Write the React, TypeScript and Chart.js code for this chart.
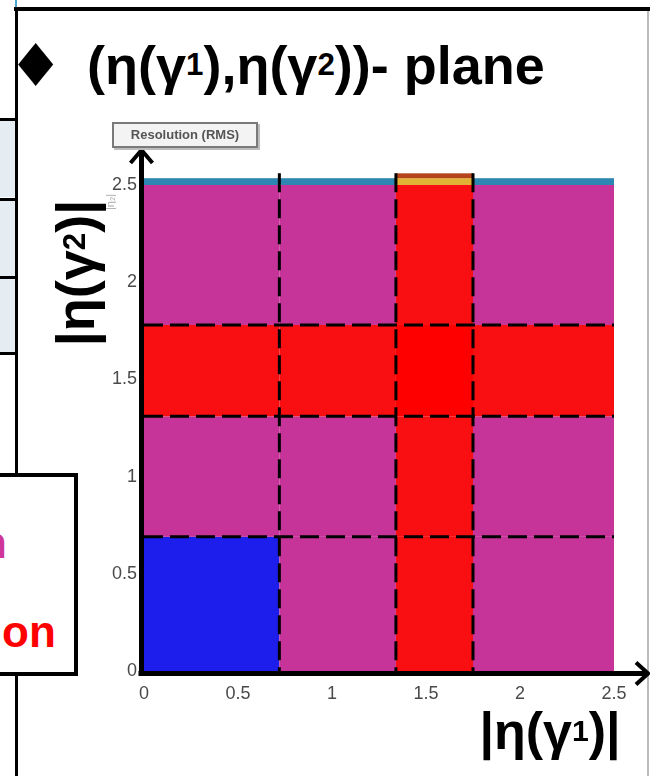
import React, { useEffect, useRef } from "react";
import { Chart, registerables } from "chart.js";

Chart.register(...registerables);

// Bin edges of the |η(γ1)| × |η(γ2)| resolution map
const xEdges = [0, 0.72, 1.34, 1.75, 2.5];
const yEdges = [0, 0.69, 1.31, 1.78, 2.5];

// Resolution class per bin, rows from low to high |η(γ2)|
const resolutionRows = [
  ["best", "mid", "poor", "mid"],
  ["mid", "mid", "poor", "mid"],
  ["poor", "poor", "worst", "poor"],
  ["mid", "mid", "poor", "mid"],
];

// Thin overflow band just above |η| = 2.5
const edgeBandY = [2.5, 2.535];
const edgeBandRow = ["edge", "edge", "hot", "edge"];
const hotCapY = [2.535, 2.56];
const hotCapCol = 2;

// Region boundaries drawn as dashed lines
const xCuts = [0.72, 1.34, 1.75];
const yCuts = [0.69, 1.31, 1.78];
const cutTop = 2.56;

const tickValues = [0, 0.5, 1, 1.5, 2, 2.5];

const palette: Record<string, string> = {
  best: "#1E1EEC",
  mid: "#C6349A",
  poor: "#F90E12",
  worst: "#FF0000",
  edge: "#2E86B2",
  hot: "#E2B236",
  cap: "#B5441C",
};

const etaPlanePlugin = {
  id: "etaPlane",
  beforeDatasetsDraw(chart: any) {
    const { ctx } = chart;
    const xs = chart.scales.x;
    const ys = chart.scales.y;
    const rect = (x0: number, x1: number, y0: number, y1: number, color: string) => {
      const px0 = xs.getPixelForValue(x0);
      const px1 = xs.getPixelForValue(x1);
      const py0 = ys.getPixelForValue(y0);
      const py1 = ys.getPixelForValue(y1);
      ctx.fillStyle = color;
      ctx.fillRect(px0, py1, px1 - px0, py0 - py1);
    };
    ctx.save();
    resolutionRows.forEach((row, j) => {
      row.forEach((cls, i) => {
        rect(xEdges[i], xEdges[i + 1], yEdges[j], yEdges[j + 1], palette[cls]);
      });
    });
    edgeBandRow.forEach((cls, i) => {
      rect(xEdges[i], xEdges[i + 1], edgeBandY[0], edgeBandY[1], palette[cls]);
    });
    rect(xEdges[hotCapCol], xEdges[hotCapCol + 1], hotCapY[0], hotCapY[1], palette.cap);
    ctx.restore();
  },
  afterDatasetsDraw(chart: any) {
    const { ctx } = chart;
    const xs = chart.scales.x;
    const ys = chart.scales.y;
    ctx.save();
    ctx.strokeStyle = "#000";
    ctx.lineWidth = 3;
    ctx.setLineDash([19, 7]);
    xCuts.forEach((v) => {
      const px = xs.getPixelForValue(v);
      ctx.beginPath();
      ctx.moveTo(px, ys.getPixelForValue(cutTop));
      ctx.lineTo(px, ys.getPixelForValue(0));
      ctx.stroke();
    });
    yCuts.forEach((v) => {
      const py = ys.getPixelForValue(v);
      ctx.beginPath();
      ctx.moveTo(xs.getPixelForValue(0), py);
      ctx.lineTo(xs.getPixelForValue(2.5), py);
      ctx.stroke();
    });
    ctx.setLineDash([]);

    // axes with open arrow heads
    const ox = xs.getPixelForValue(0) - 2.5;
    const oy = ys.getPixelForValue(0) + 2.5;
    ctx.lineWidth = 5;
    ctx.lineCap = "butt";
    ctx.beginPath();
    ctx.moveTo(ox, oy + 2);
    ctx.lineTo(ox, 148);
    ctx.moveTo(ox - 3, oy);
    ctx.lineTo(647, oy);
    ctx.stroke();
    ctx.lineWidth = 4;
    ctx.lineJoin = "miter";
    ctx.beginPath();
    ctx.moveTo(ox - 11, 163);
    ctx.lineTo(ox, 150);
    ctx.lineTo(ox + 11, 163);
    ctx.stroke();
    ctx.beginPath();
    ctx.moveTo(636, oy - 11);
    ctx.lineTo(648, oy);
    ctx.lineTo(636, oy + 11);
    ctx.stroke();
    ctx.restore();
  },
};

const tickFont = { family: '"Liberation Sans", Arial, sans-serif', size: 18 };

export default function App() {
  const canvasRef = useRef<HTMLCanvasElement | null>(null);

  useEffect(() => {
    if (!canvasRef.current) return;
    const chart = new Chart(canvasRef.current, {
      type: "scatter",
      data: { datasets: [] },
      options: {
        animation: false,
        responsive: false,
        devicePixelRatio: 1,
        layout: { padding: { top: 185, right: 36, bottom: 0, left: 0 } },
        plugins: { legend: { display: false }, tooltip: { enabled: false } },
        scales: {
          x: {
            type: "linear",
            min: 0,
            max: 2.5,
            afterBuildTicks: (s: any) => {
              s.ticks = tickValues.map((v) => ({ value: v }));
            },
            afterFit: (s: any) => {
              s.height = 105;
            },
            grid: { display: false, drawTicks: false },
            border: { display: false },
            ticks: {
              color: "#4a4a4a",
              font: tickFont,
              padding: 12,
              maxRotation: 0,
              callback: (v: any) => String(v),
            },
          },
          y: {
            type: "linear",
            min: 0,
            max: 2.5,
            afterBuildTicks: (s: any) => {
              s.ticks = tickValues.map((v) => ({ value: v }));
            },
            afterFit: (s: any) => {
              s.width = 144;
            },
            grid: { display: false, drawTicks: false },
            border: { display: false },
            ticks: {
              color: "#4a4a4a",
              font: tickFont,
              padding: 7,
              callback: (v: any) => String(v),
            },
          },
        },
      },
      plugins: [etaPlanePlugin],
    } as any);
    return () => chart.destroy();
  }, []);

  const bold = '"Liberation Sans", Arial, sans-serif';
  const sub = { fontSize: "58%", verticalAlign: "0.28em" } as React.CSSProperties;

  return (
    <div style={{ position: "absolute", left: 0, top: 0, width: 650, height: 776, overflow: "hidden", background: "#fff" }}>
      {/* slide frame and neighbouring table */}
      <div style={{ position: "absolute", left: 15, top: 0, width: 2, height: 7, background: "#4aa8c8" }} />
      <div style={{ position: "absolute", left: 14, top: 7, width: 640, height: 4, background: "#000" }} />
      <div style={{ position: "absolute", left: 647, top: 11, width: 2, height: 765, background: "#bbb" }} />
      <div style={{ position: "absolute", left: 15, top: 7, width: 3, height: 468, background: "#000" }} />
      <div style={{ position: "absolute", left: 15, top: 670, width: 3, height: 106, background: "#000" }} />
      {[118, 198, 276].map((t) => (
        <div key={t} style={{ position: "absolute", left: 0, top: t + 3, width: 15, height: 76, background: "#E6EDF2" }} />
      ))}
      {[118, 198, 276, 352].map((t) => (
        <div key={"l" + t} style={{ position: "absolute", left: 0, top: t, width: 16, height: 3, background: "#000" }} />
      ))}
      <div style={{ position: "absolute", left: -4, top: 473, width: 74, height: 195, border: "4px solid #000", background: "#fff" }} />
      <div style={{ position: "absolute", left: -20, top: 518, font: `bold 44px ${bold}`, color: "#D0359A" }}>n</div>
      <div style={{ position: "absolute", left: 2, top: 607, font: `bold 44px ${bold}`, color: "#FF0000" }}>on</div>

      {/* heading */}
      <div
        style={{
          position: "absolute",
          left: 18,
          top: 36,
          font: `46px "DejaVu Sans"`,
          lineHeight: "46px",
          color: "#000",
          transform: "scaleY(1.22)",
          transformOrigin: "50% 50%",
        }}
      >
        ◆
      </div>
      <div style={{ position: "absolute", left: 87, top: 34, font: `bold 54px ${bold}`, color: "#000", whiteSpace: "nowrap" }}>
        (η(γ<span style={sub}>1</span>),η(γ<span style={sub}>2</span>))- plane
      </div>

      <canvas ref={canvasRef} width={650} height={776} style={{ position: "absolute", left: 0, top: 0 }} />

      {/* palette caption */}
      <div
        style={{
          position: "absolute",
          left: 112,
          top: 122,
          width: 142,
          height: 22,
          border: "2px solid #7a7a7a",
          background: "#f3f3f3",
          boxShadow: "2px 2px 0 #bdbdbd",
          font: `bold 13px ${bold}`,
          color: "#555",
          textAlign: "center",
          lineHeight: "22px",
        }}
      >
        Resolution (RMS)
      </div>

      {/* axis titles */}
      <div
        style={{
          position: "absolute",
          left: 75,
          top: 273,
          transform: "translate(-50%, -50%) rotate(-90deg)",
          font: `bold 54px ${bold}`,
          color: "#000",
          whiteSpace: "nowrap",
        }}
      >
        |η(γ<span style={sub}>2</span>)|
      </div>
      <div style={{ position: "absolute", left: 102, top: 196, transform: "rotate(-90deg)", font: `11px ${bold}`, color: "#aaa" }}>|η₂|</div>
      <div
        style={{
          position: "absolute",
          left: 550,
          top: 731,
          transform: "translate(-50%, -50%)",
          font: `bold 52px ${bold}`,
          color: "#000",
          whiteSpace: "nowrap",
        }}
      >
        |η(γ<span style={sub}>1</span>)|
      </div>
    </div>
  );
}
